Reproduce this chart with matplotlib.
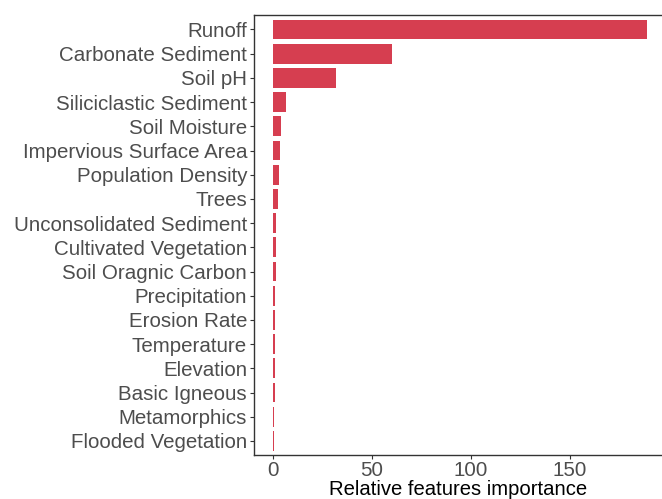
import matplotlib
matplotlib.use("Agg")
from matplotlib import pyplot as plt
import numpy as np

features = ['Runoff', 'Carbonate Sediment', 'Soil pH', 'Siliciclastic Sediment',
            'Soil Moisture', 'Impervious Surface Area', 'Population Density',
            'Trees', 'Unconsolidated Sediment', 'Cultivated Vegetation',
            'Soil Oragnic Carbon', 'Precipitation', 'Erosion Rate',
            'Temperature', 'Elevation', 'Basic Igneous', 'Metamorphics',
            'Flooded Vegetation']
importance = [189, 60, 32, 6.6, 4.1, 3.6, 3.1, 2.5, 1.6, 1.5, 1.5,
              1.0, 1.0, 1.0, 1.0, 0.9, 0.6, 0.3]
xticks = [0, 50, 100, 150]

plt.rcParams['font.family'] = ['Liberation Sans', 'DejaVu Sans']

fig = plt.figure(figsize=(6.62, 4.99), dpi=100)
ax = fig.add_axes([0.3837, 0.0882, 0.6163, 0.8818])
pos = np.arange(len(features))
ax.barh(pos, importance, height=0.82, color='#d63e50')
ax.set_ylim(len(features) - 0.42, -0.6)
ax.set_xlim(-9.6, 196.5)
ax.set_yticks(pos)
ax.set_yticklabels(features, fontsize=14.8, color='#4d4d4d')
ax.set_xticks(xticks)
ax.set_xticklabels([str(t) for t in xticks], fontsize=14.8, color='#4d4d4d')
ax.tick_params(axis='y', length=3, width=0.8, color='#333333', pad=2)
ax.tick_params(axis='x', length=3, width=0.8, color='#333333', pad=1)
for side in ['left', 'top', 'bottom']:
    ax.spines[side].set_color('#333333')
    ax.spines[side].set_linewidth(1.0)
ax.spines['right'].set_visible(False)
ax.set_xlabel('Relative features importance', fontsize=14.6, color='black', labelpad=0.5)
fig.savefig('out.png', dpi=100)
